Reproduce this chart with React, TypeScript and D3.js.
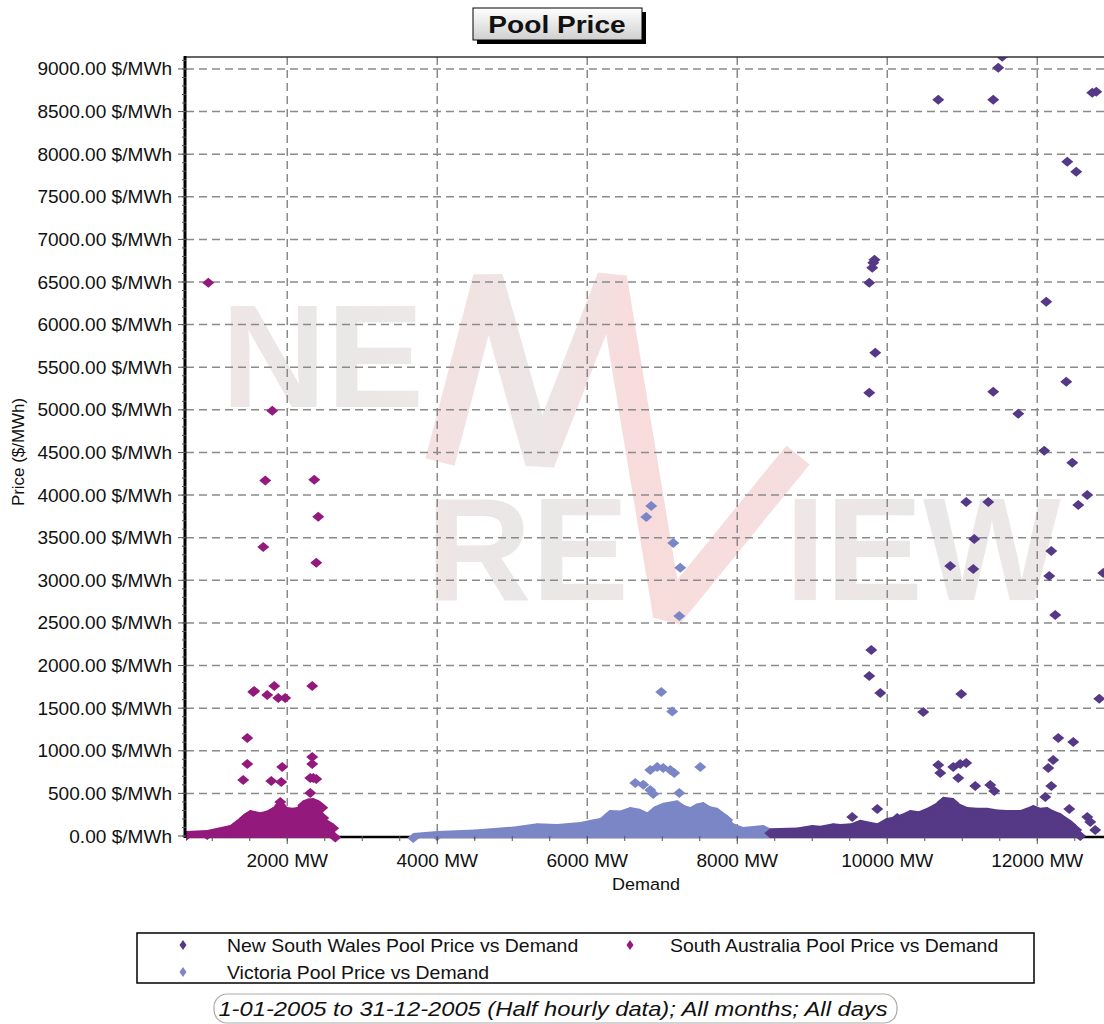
import * as d3 from 'd3'

// ---- data (demand MW, price $/MWh) ----
const nswPoints: [number, number][] = [
  [11533, 9143], [11480, 9014], [10680, 8638], [11413, 8638], [12733, 8720], [12787, 8732],
  [12400, 7910], [12520, 7793], [9813, 6725], [9830, 6760], [9800, 6667], [9760, 6490],
  [12120, 6268], [9840, 5669], [9760, 5200], [11413, 5211], [11747, 4953], [12387, 5329],
  [12093, 4519], [12467, 4378], [12667, 4002], [12547, 3885], [11053, 3920], [11347, 3920],
  [11160, 3486], [10840, 3169], [11147, 3134], [12187, 3345], [12160, 3052], [12880, 3087],
  [12240, 2594], [9787, 2183], [9760, 1878], [9907, 1678], [10987, 1667], [12827, 1610],
  [10480, 1455], [12280, 1150], [12480, 1103], [12213, 892], [12147, 798], [12187, 587],
  [12107, 458], [10680, 833], [10707, 739], [10880, 810], [10973, 845], [11053, 857],
  [10947, 681], [11173, 587], [11373, 599], [11427, 528], [9867, 317], [9533, 223],
  [10133, 211], [12427, 317], [12667, 223], [12773, 70], [12707, 164],
]
const nswCloud: [number, number][] = [
  [8440, 90], [8800, 100], [9000, 130], [9107, 120], [9280, 150], [9373, 140], [9520, 150],
  [9640, 190], [9867, 150], [9990, 210], [10080, 225], [10200, 260], [10307, 305], [10420, 290],
  [10533, 330], [10640, 380], [10747, 460], [10880, 445], [10960, 380], [11067, 340],
  [11200, 330], [11333, 330], [11470, 310], [11600, 305], [11773, 305], [11860, 330],
  [11947, 365], [12040, 330], [12133, 340], [12220, 300], [12307, 270], [12440, 190],
  [12520, 130], [12573, 60], [12600, 0],
]

const saPoints: [number, number][] = [
  [947, 6490], [1800, 4990], [1707, 4170], [2360, 4180], [2413, 3745], [1680, 3390], [2387, 3205],
  [1560, 1702], [1547, 1690], [1827, 1761], [1733, 1655], [1880, 1620], [1973, 1620], [2333, 1761],
  [1467, 1150], [1467, 845], [1413, 657], [1787, 646], [1920, 634], [1933, 810], [2333, 927],
  [2333, 845], [2347, 681], [2307, 681], [2387, 669], [2307, 505], [1907, 400],
]
const saCloud: [number, number][] = [
  [650, 60], [933, 70], [1240, 130], [1333, 190], [1440, 270], [1507, 305], [1580, 290],
  [1640, 280], [1730, 300], [1813, 340], [1907, 420], [2000, 340], [2070, 330], [2133, 340],
  [2213, 420], [2280, 440], [2347, 445], [2420, 420], [2467, 390], [2480, 270], [2533, 190],
  [2613, 150], [2640, 40], [2650, 0],
]

const vicPoints: [number, number][] = [
  [6853, 3873], [6787, 3744], [7147, 3439], [7240, 3146], [7227, 2582], [6987, 1690],
  [7133, 1460], [7507, 810], [6840, 775], [6933, 810], [7013, 798], [7107, 775], [7160, 740],
  [6640, 622], [6747, 600], [6840, 540], [6880, 493], [7227, 505],
]
const vicCloud: [number, number][] = [
  [3680, 35], [4000, 60], [4500, 75], [5000, 110], [5333, 150], [5600, 140], [5907, 165],
  [6050, 190], [6173, 210], [6300, 305], [6440, 300], [6573, 340], [6700, 320], [6800, 280],
  [6900, 350], [7013, 390], [7200, 420], [7300, 360], [7373, 340], [7460, 380], [7547, 400],
  [7640, 350], [7733, 330], [7867, 245], [7947, 150], [8080, 105], [8347, 130], [8440, 90],
  [8500, 0],
]

const yTicks = d3.range(0, 9001, 500)
const yMinor = d3.range(0, 9101, 100)
const xTicks = [2000, 4000, 6000, 8000, 10000, 12000]
const xMinor = d3.range(1000, 13000, 500)

const seriesNames = [
  'New South Wales Pool Price vs Demand',
  'South Australia Pool Price vs Demand',
  'Victoria Pool Price vs Demand',
]
const colors = ['#553886', '#93197d', '#7b86c6']

const FONT = 'Liberation Sans, Arial, sans-serif'
const SX = 1.06
const diamond = 'M0,-5L6,0L0,5L-6,0Z'

const T = ({ x, y, children, size = 18, anchor = 'start', weight = 'normal', italic = false, rotate = 0, sx = SX }: any) => (
  <text
    transform={`translate(${x},${y})${rotate ? ` rotate(${rotate})` : ''} scale(${sx},1)`}
    textAnchor={anchor}
    fontSize={size}
    fontWeight={weight}
    fontStyle={italic ? 'italic' : 'normal'}
    fontFamily={FONT}
    fill="#111"
  >
    {children}
  </text>
)

const App = () => {
  const width = 1104
  const height = 1024
  const left = 186
  const top = 57
  const bottom = 836

  const x = d3.scaleLinear().domain([650, 12970]).range([left, 1110])
  const y = d3.scaleLinear().domain([0, 9140]).range([bottom, top])

  const area = d3.area<[number, number]>()
    .x(d => x(d[0]))
    .y0(y(0) + 2)
    .y1(d => y(d[1]))

  const clouds = [
    { cloud: saCloud, pts: saPoints, color: colors[1] },
    { cloud: vicCloud, pts: vicPoints, color: colors[2] },
    { cloud: nswCloud, pts: nswPoints, color: colors[0] },
  ]

  return (
    <svg width={width} height={height} style={{ position: 'absolute', left: 0, top: 0, background: '#fff' }}>
      <defs>
        <linearGradient id="wm" x1="0" y1="0" x2="1" y2="0">
          <stop offset="0" stopColor="#f0e6e6" />
          <stop offset="0.5" stopColor="#e9e7e7" />
          <stop offset="1" stopColor="#eee8e8" />
        </linearGradient>
        <linearGradient id="wmM" gradientUnits="userSpaceOnUse" x1="420" y1="0" x2="810" y2="0">
          <stop offset="0" stopColor="#f6e0e0" />
          <stop offset="0.3" stopColor="#ece6e6" />
          <stop offset="0.55" stopColor="#f8dcdc" />
          <stop offset="1" stopColor="#f6dede" />
        </linearGradient>
        <linearGradient id="titleG" x1="0" y1="0" x2="0" y2="1">
          <stop offset="0" stopColor="#ffffff" />
          <stop offset="1" stopColor="#cfcfcf" />
        </linearGradient>
        <clipPath id="plot">
          <rect x={left} y={top} width={width - left} height={bottom - top + 8} />
        </clipPath>
      </defs>

      {/* watermark */}
      <g>
        <text x={221} y={407} fontSize={146} fontWeight="bold" fontFamily={FONT} fill="url(#wm)">NE</text>
        <text x={426} y={600} fontSize={146} fontWeight="bold" fontFamily={FONT} fill="url(#wm)">RE</text>
        <text x={785} y={600} fontSize={146} fontWeight="bold" fontFamily={FONT} fill="url(#wm)">IEW</text>
        <polyline
          points="440,462 488,278 540,462 612,278 668,615 798,455"
          fill="none"
          stroke="url(#wmM)"
          strokeWidth={30}
          strokeLinejoin="bevel"
        />
      </g>

      {/* grid */}
      <g stroke="#8a8a8a" strokeWidth={1.5} strokeDasharray="8,5">
        {yTicks.filter(t => t > 0).map(t => (
          <line key={'gy' + t} x1={left} x2={width} y1={y(t)} y2={y(t)} />
        ))}
        {xTicks.map(t => (
          <line key={'gx' + t} x1={x(t)} x2={x(t)} y1={top} y2={bottom} />
        ))}
      </g>

      {/* bottom axis line */}
      <line x1={left} x2={width} y1={bottom + 1} y2={bottom + 1} stroke="#000" strokeWidth={2.5} />

      {/* data */}
      <g clipPath="url(#plot)">
        {clouds.map((c, i) => (
          <g key={i} fill={c.color}>
            <path d={area(c.cloud) || ''} />
            {c.cloud.filter(d => d[1] > 0).map((d, j) => (
              <path key={'c' + j} d={diamond} transform={`translate(${x(d[0])},${y(d[1]) + 5})`} />
            ))}
            {c.pts.map((d, j) => (
              <path key={'p' + j} d={diamond} transform={`translate(${x(d[0])},${y(d[1])})`} />
            ))}
          </g>
        ))}
      </g>

      {/* frame */}
      <line x1={left} x2={width} y1={top} y2={top} stroke="#333" strokeWidth={1.5} />
      <line x1={left - 1} x2={left - 1} y1={top - 1} y2={bottom + 2} stroke="#000" strokeWidth={3} />

      {/* ticks */}
      <g stroke="#555" strokeWidth={1}>
        {yMinor.map(t => (
          <line key={'my' + t} x1={left - 4} x2={left} y1={y(t)} y2={y(t)} />
        ))}
        {yTicks.map(t => (
          <line key={'ty' + t} x1={left - 8} x2={left} y1={y(t)} y2={y(t)} />
        ))}
        {xMinor.map(t => (
          <line key={'mx' + t} x1={x(t)} x2={x(t)} y1={bottom} y2={bottom + 5} />
        ))}
        {xTicks.map(t => (
          <line key={'tx' + t} x1={x(t)} x2={x(t)} y1={bottom} y2={bottom + 8} />
        ))}
      </g>
      {yTicks.map(t => (
        <T key={'ly' + t} x={172} y={y(t) + 6.5} anchor="end">{`${t.toFixed(2)} $/MWh`}</T>
      ))}
      {xTicks.map(t => (
        <T key={'lx' + t} x={x(t)} y={867} anchor="middle">{`${t} MW`}</T>
      ))}

      <T x={646} y={890} size={17} anchor="middle">Demand</T>
      <T x={24} y={452} size={16} anchor="middle" rotate={-90}>Price ($/MWh)</T>

      {/* title */}
      <rect x={477} y={12} width={169} height={32} fill="#000" />
      <rect x={473} y={8} width={169} height={32} fill="url(#titleG)" stroke="#000" strokeWidth={1} />
      <T x={557} y={33} size={24} weight="bold" anchor="middle" sx={1.17}>Pool Price</T>

      {/* legend */}
      <rect x={137} y={933} width={897} height={50} fill="#fff" stroke="#000" strokeWidth={1.5} />
      {[
        { xs: 183, xt: 227, yc: 945 },
        { xs: 630, xt: 670, yc: 945 },
        { xs: 183, xt: 227, yc: 972 },
      ].map((l, i) => (
        <g key={'lg' + i}>
          <path d="M0,-5L3.5,0L0,5L-3.5,0Z" fill={colors[i]} transform={`translate(${l.xs},${l.yc})`} />
          <T x={l.xt} y={l.yc + 7} size={18} sx={1.08}>{seriesNames[i]}</T>
        </g>
      ))}

      {/* footer */}
      <rect x={214} y={994} width={683} height={29} rx={13} fill="#fff" stroke="#aaa" strokeWidth={1.2} />
      <T x={553} y={1016} size={21} italic anchor="middle" sx={1.13}>1-01-2005 to 31-12-2005 (Half hourly data); All months; All days</T>
    </svg>
  )
}

export default App
